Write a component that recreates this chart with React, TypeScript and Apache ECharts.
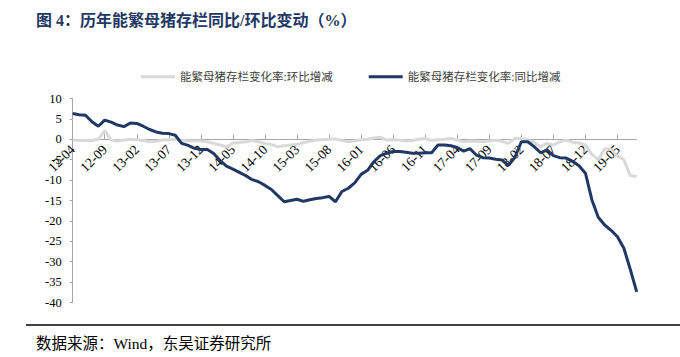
import React, { useEffect, useRef } from "react";
import * as echarts from "echarts";

const categories = [
  "12-04","12-05","12-06","12-07","12-08","12-09","12-10","12-11","12-12",
  "13-01","13-02","13-03","13-04","13-05","13-06","13-07","13-08","13-09","13-10","13-11","13-12",
  "14-01","14-02","14-03","14-04","14-05","14-06","14-07","14-08","14-09","14-10","14-11","14-12",
  "15-01","15-02","15-03","15-04","15-05","15-06","15-07","15-08","15-09","15-10","15-11","15-12",
  "16-01","16-02","16-03","16-04","16-05","16-06","16-07","16-08","16-09","16-10","16-11","16-12",
  "17-01","17-02","17-03","17-04","17-05","17-06","17-07","17-08","17-09","17-10","17-11","17-12",
  "18-01","18-02","18-03","18-04","18-05","18-06","18-07","18-08","18-09","18-10","18-11","18-12",
  "19-01","19-02","19-03","19-04","19-05","19-06","19-07","19-08",
];

// 能繁母猪存栏变化率:环比增减 (%)
const momValues = [
  -0.2, -0.3, -0.3, -0.3, 0.0, 2.1, -0.2, -0.4, -0.2,
  0.0, -0.1, -0.3, -0.6, -0.5, -0.2, -0.1, 0.0, -0.2, -0.4, -0.4, -0.4,
  -0.6, -1.0, -1.4, -1.9, -0.9, -0.8, -0.6, -0.3, -0.6, -1.0, -1.3, -1.8,
  -1.6, -1.4, -1.3, -0.8, -0.5, -0.2, -0.1, 0.0, 0.1, -0.3, -0.6, -0.4,
  -0.1, 0.0, 0.3, 0.5, -0.2, -0.1, -0.2, -0.4, -0.3, 0.0, 0.2, -0.3,
  -0.1, 0.0, 0.2, -0.2, -0.6, -0.4, -0.5, -0.6, -0.4, -0.2, -0.5, -1.0,
  0.2, 0.2, -0.1, -0.8, -1.8, -1.0, -1.4, -0.6, -0.2, -0.7, -0.9, -1.4,
  -3.7, -5.0, -2.3, -2.5, -4.1, -5.0, -8.9, -9.1,
];

// 能繁母猪存栏变化率:同比增减 (%)
const yoyValues = [
  6.3, 6.0, 5.9, 4.3, 3.2, 4.7, 4.2, 3.5, 3.1,
  4.0, 3.9, 3.2, 2.4, 1.8, 1.5, 1.4, 1.0, -1.0, -1.5, -2.2, -2.5,
  -2.5, -3.5, -5.2, -6.6, -7.3, -8.1, -8.9, -9.9, -10.4, -11.3, -12.3, -13.8,
  -15.3, -15.0, -14.7, -15.2, -14.8, -14.5, -14.3, -14.0, -15.3, -12.8, -12.0, -10.7,
  -8.6, -7.6, -5.5, -4.0, -3.4, -3.0, -3.0, -3.2, -3.4, -3.4, -3.3, -3.3,
  -1.4, -1.4, -1.6, -2.0, -2.9, -2.3, -3.9, -4.5, -4.6, -4.9, -5.1, -6.4,
  -4.4, -0.6, -0.6, -1.8, -3.3, -2.6, -4.0, -4.5, -4.6, -5.4, -6.5, -8.3,
  -14.8, -19.1, -21.0, -22.3, -23.9, -26.7, -31.9, -37.4,
];

const yTicks = { min: -40, max: 10, interval: 5 };
const labelEvery = 5;

const titleText = "图 4：历年能繁母猪存栏同比/环比变动（%）";
const sourceText = "数据来源：Wind，东吴证券研究所";
const momName = "能繁母猪存栏变化率:环比增减";
const yoyName = "能繁母猪存栏变化率:同比增减";

const serif = "'Liberation Serif', 'Times New Roman', 'Noto Sans CJK SC', serif";

const GRID_TOP = 98.5;
const GRID_BOTTOM = 54.5;
const CHART_H = 357;

export default function App() {
  const ref = useRef<HTMLDivElement>(null);
  useEffect(() => {
    if (!ref.current) return;
    const chart = echarts.init(ref.current, undefined, { renderer: "svg" });
    const plotH = CHART_H - GRID_TOP - GRID_BOTTOM;
    const zeroFromBottom = (plotH * (0 - yTicks.min)) / (yTicks.max - yTicks.min);
    chart.setOption({
      animation: false,
      backgroundColor: "#ffffff",
      textStyle: { fontFamily: serif },
      grid: { left: 72.7, right: 43.3, top: GRID_TOP, bottom: GRID_BOTTOM, containLabel: false },
      legend: {
        data: [momName, yoyName],
        left: 136,
        top: 66,
        icon: "rect",
        itemWidth: 34,
        itemHeight: 3,
        itemGap: 36,
        textStyle: { fontSize: 11.5, color: "#404040", fontFamily: serif },
      },
      xAxis: {
        type: "category",
        data: categories,
        boundaryGap: false,
        offset: -zeroFromBottom,
        axisLine: { onZero: false, lineStyle: { color: "#A6A6A6", width: 1 } },
        axisTick: { interval: labelEvery - 1, inside: true, length: 5, lineStyle: { color: "#A6A6A6" } },
        axisLabel: {
          interval: labelEvery - 1,
          rotate: 45,
          margin: 8,
          fontSize: 13.5,
          color: "#000",
          fontFamily: serif,
          hideOverlap: false,
        },
        splitLine: { show: false },
      },
      yAxis: {
        type: "value",
        min: yTicks.min,
        max: yTicks.max,
        interval: yTicks.interval,
        axisLine: { show: true, lineStyle: { color: "#A6A6A6", width: 1 } },
        axisTick: { show: true, length: 3, lineStyle: { color: "#A6A6A6" } },
        axisLabel: { fontSize: 12.5, color: "#000", margin: 11, fontFamily: serif },
        splitLine: { show: false },
      },
      series: [
        {
          name: momName,
          type: "line",
          data: momValues,
          symbol: "none",
          lineStyle: { color: "#D9D9D9", width: 3 },
          itemStyle: { color: "#D9D9D9" },
        },
        {
          name: yoyName,
          type: "line",
          data: yoyValues,
          symbol: "none",
          lineStyle: { color: "#203864", width: 3 },
          itemStyle: { color: "#203864" },
        },
      ],
      graphic: [
        {
          type: "text",
          left: 36,
          top: 12,
          style: { text: titleText, font: `bold 16px ${serif}`, fill: "#1F3864" },
        },
        {
          type: "line",
          shape: { x1: 26, y1: 325, x2: 680, y2: 325 },
          style: { stroke: "#000", lineWidth: 1.5 },
        },
        {
          type: "text",
          left: 36,
          top: 336,
          style: { text: sourceText, font: `15.5px ${serif}`, fill: "#000" },
        },
      ],
    });
    return () => chart.dispose();
  }, []);
  return (
    <div
      ref={ref}
      style={{ position: "fixed", left: 0, top: 0, width: 680, height: 357, background: "#fff" }}
    />
  );
}
